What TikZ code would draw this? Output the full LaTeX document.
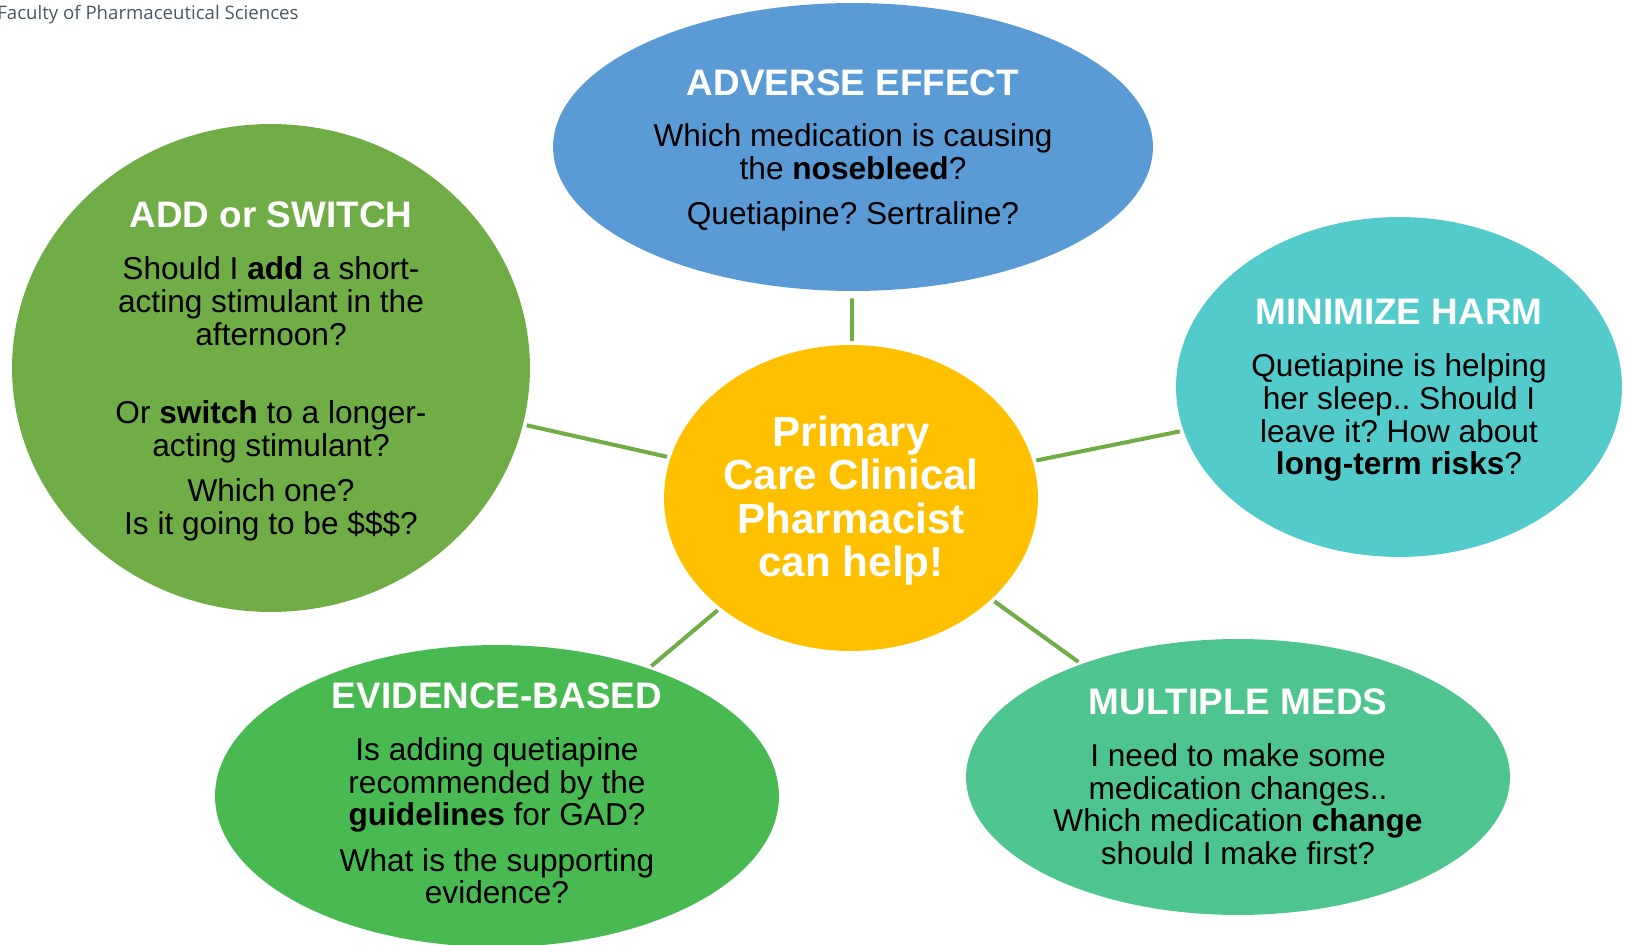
\documentclass[tikz,border=0pt]{standalone}
\usepackage{fontspec}
\setmainfont{Liberation Sans}
\newfontfamily\headfont{Open Sans}
\usetikzlibrary{shapes.geometric}
\frenchspacing

\definecolor{addgreen}{HTML}{70AD47}
\definecolor{advblue}{HTML}{5B9BD5}
\definecolor{harmteal}{HTML}{53CBCB}
\definecolor{medsgreen}{HTML}{4EC58E}
\definecolor{evidgreen}{HTML}{49BA51}
\definecolor{coreyellow}{HTML}{FFC000}
\definecolor{headgray}{HTML}{4A5566}

% white heading at the top of each bubble
\newcommand\bubtitle[1]{{\color{white}\bfseries\fontsize{21}{25}\selectfont #1}}

\tikzset{
  bubble/.style={ellipse,draw=none,inner sep=0pt},
  qtext/.style={align=center,inner sep=0pt,yshift=-2pt,text=black,font=\fontsize{18}{18.7}\selectfont},
  link/.style={draw=addgreen,line width=2.3pt,shorten <=2pt,shorten >=2pt}
}

\begin{document}
\begin{tikzpicture}[x=0.02cm,y=-0.02cm]
\useasboundingbox (0,0) rectangle (1625,945);
\clip (0,0) rectangle (1625,945);

\node[anchor=west,inner sep=0pt,text=headgray,font=\headfont\fontsize{10.6}{12}\selectfont] (fac) at (-3,15) {Faculty of Pharmaceutical Sciences};

% the bubbles round the centre
\node[bubble,fill=addgreen,minimum width=10.36cm,minimum height=9.76cm] (add) at (271,368) {};
\node[bubble,fill=advblue,minimum width=12cm,minimum height=5.76cm] (adv) at (853,147) {};
\node[bubble,fill=harmteal,minimum width=8.92cm,minimum height=6.8cm] (harm) at (1399,387) {};
\node[bubble,fill=medsgreen,minimum width=10.88cm,minimum height=5.52cm] (meds) at (1238,777) {};
\node[bubble,fill=evidgreen,minimum width=11.28cm,minimum height=6.04cm] (evid) at (497,796) {};
\node[bubble,fill=coreyellow,minimum width=7.48cm,minimum height=6.12cm] (core) at (851,498) {};
\node[align=center,inner sep=0pt,yshift=-1.5pt,text=white,font=\bfseries\fontsize{24}{24.8}\selectfont]
  (coreq) at (core) {Primary\\Care Clinical\\Pharmacist\\can help!};

% questions
\node[qtext] (addq) at (add) {\bubtitle{ADD or SWITCH}\\[10.7pt]
  Should I \textbf{add} a short-\\acting stimulant in the\\afternoon?\\[26pt]
  Or \textbf{switch} to a longer-\\acting stimulant?\\[7pt]
  Which one?\\Is it going to be \$\$\$?};
\node[qtext] (advq) at (adv) {\bubtitle{ADVERSE EFFECT}\\[10.7pt]
  Which medication is causing\\the \textbf{nosebleed}?\\[7pt]
  Quetiapine? Sertraline?};
\node[qtext] (harmq) at (harm) {\bubtitle{MINIMIZE HARM}\\[10.7pt]
  Quetiapine is helping\\her sleep.. Should I\\leave it? How about\\\textbf{long-term risks}?};
\node[qtext,yshift=2pt] (medsq) at (meds) {\bubtitle{MULTIPLE MEDS}\\[10.7pt]
  I need to make some\\medication changes..\\Which medication \textbf{change}\\should I make first?};
\node[qtext,yshift=3.4pt] (evidq) at (evid) {\bubtitle{EVIDENCE-BASED}\\[10.7pt]
  Is adding quetiapine\\recommended by the\\\textbf{guidelines} for GAD?\\[7pt]
  What is the supporting\\evidence?};

% spokes
\draw[link,shorten >=4pt] (core) -- (adv);
\draw[link] (core) -- (add);
\draw[link] (core) -- (harm);
\draw[link] (core) -- (evid);
\draw[link] (core) -- (meds);
\end{tikzpicture}
\end{document}
